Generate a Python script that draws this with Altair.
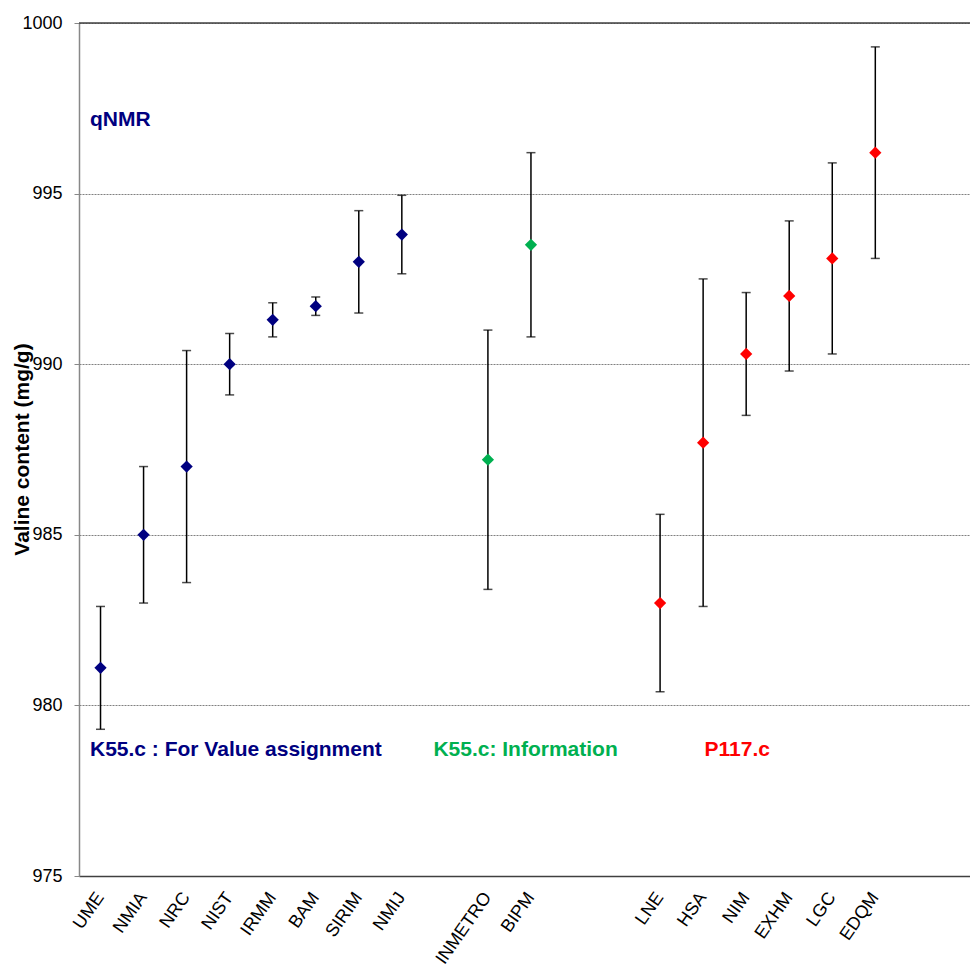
import altair as alt
import pandas as pd

# ---- data ----
labs = ["UME", "NMIA", "NRC", "NIST", "IRMM", "BAM", "SIRIM", "NMIJ",
        "INMETRO", "BIPM",
        "LNE", "HSA", "NIM", "EXHM", "LGC", "EDQM"]
values = [981.1, 985.0, 987.0, 990.0, 991.3, 991.7, 993.0, 993.8,
          987.2, 993.5,
          983.0, 987.7, 990.3, 992.0, 993.1, 996.2]
lower = [979.3, 983.0, 983.6, 989.1, 990.8, 991.43, 991.5, 992.65,
         983.4, 990.8,
         980.4, 982.9, 988.5, 989.8, 990.3, 993.1]
upper = [982.9, 987.0, 990.4, 990.9, 991.8, 991.97, 994.5, 994.95,
         991.0, 996.2,
         985.6, 992.5, 992.1, 994.2, 995.9, 999.3]
groups = ["K55.c : For Value assignment"] * 8 + ["K55.c: Information"] * 2 + ["P117.c"] * 6

# category slots (blank slots separate the three groups)
slots = ["UME", "NMIA", "NRC", "NIST", "IRMM", "BAM", "SIRIM", "NMIJ", " ",
         "INMETRO", "BIPM", "  ", "   ",
         "LNE", "HSA", "NIM", "EXHM", "LGC", "EDQM"]

group_names = ["K55.c : For Value assignment", "K55.c: Information", "P117.c"]
group_colors = ["#000080", "#00B050", "#FF0000"]

# annotation texts
ann_text = ["qNMR", "K55.c : For Value assignment", "K55.c: Information", "P117.c"]
ann_colors = ["#000080", "#000080", "#00B050", "#FF0000"]
ann_slot = ["UME", "UME", "INMETRO", "LNE"]
ann_dx = [11, 11, -33, 66]
ann_y = [997.15, 978.7, 978.7, 978.7]

df = pd.DataFrame({"lab": labs, "value": values, "lo": lower, "hi": upper, "group": groups})
ann = pd.DataFrame({"text": ann_text, "color": ann_colors, "slot": ann_slot, "dx": ann_dx, "y": ann_y})

W, H = 891, 853

xscale = alt.Scale(domain=slots, paddingInner=0, paddingOuter=0.85, align=0)
yscale = alt.Scale(domain=[975, 1000], nice=False, zero=False)

xax = alt.X("lab:N", scale=xscale, sort=slots,
            axis=alt.Axis(title=None, labelAngle=-55, labelAlign="right", labelBaseline="middle",
                          labelFont="Liberation Sans", labelFontSize=18, labelColor="#000000",
                          labelPadding=18, ticks=False, domainColor="#404040", domainWidth=1.5,
                          labelOverlap=False))
yax = alt.Y("value:Q", scale=yscale,
            axis=alt.Axis(title="Valine content (mg/g)", values=[975, 980, 985, 990, 995, 1000],
                          format="d",
                          labelFont="Liberation Sans", labelFontSize=18, labelColor="#000000",
                          labelPadding=12, tickSize=5, tickColor="#888888", domainColor="#888888",
                          domainWidth=1.5,
                          grid=True, gridColor="#808080", gridDash=[2, 1], gridWidth=1,
                          titleFont="Liberation Sans", titleFontSize=21, titleFontWeight="bold",
                          titleColor="#000000", titleX=-57, titleY=426, titleAngle=-90,
                          titleAlign="center", titleBaseline="middle"))

base = alt.Chart(df)

bars = base.mark_rule(color="#000000", strokeWidth=1.5).encode(
    x=xax, y=alt.Y("lo:Q", scale=yscale), y2="hi:Q")
cap_lo = base.mark_tick(color="#000000", size=9, thickness=1.5, orient="horizontal").encode(
    x=alt.X("lab:N", scale=xscale, sort=slots), y=alt.Y("lo:Q", scale=yscale))
cap_hi = base.mark_tick(color="#000000", size=9, thickness=1.5, orient="horizontal").encode(
    x=alt.X("lab:N", scale=xscale, sort=slots), y=alt.Y("hi:Q", scale=yscale))
pts = base.mark_point(shape="diamond", filled=True, size=150, opacity=1).encode(
    x=alt.X("lab:N", scale=xscale, sort=slots), y=yax,
    color=alt.Color("group:N", scale=alt.Scale(domain=group_names, range=group_colors), legend=None))

topline = alt.Chart(pd.DataFrame({"v": [1000]})).mark_rule(color="#404040", strokeWidth=1.5).encode(
    y=alt.Y("v:Q", scale=yscale))

texts = alt.Chart(ann).mark_text(align="left", baseline="middle", font="Liberation Sans",
                                 fontSize=21, fontWeight="bold").encode(
    x=alt.X("slot:N", scale=xscale, sort=slots),
    y=alt.Y("y:Q", scale=yscale),
    text="text:N",
    color=alt.Color("color:N", scale=None),
    xOffset=alt.XOffset("dx:Q", scale=None))

chart = alt.layer(bars, cap_lo, cap_hi, pts, topline, texts).properties(
    width=W, height=H,
    padding={"left": 79, "top": 23, "right": 0, "bottom": 90},
    autosize=alt.AutoSizeParams(type="none"),
    background="#ffffff"
).configure_view(stroke=None)

chart.save("out.html", embed_options={"renderer": "svg", "actions": False})
